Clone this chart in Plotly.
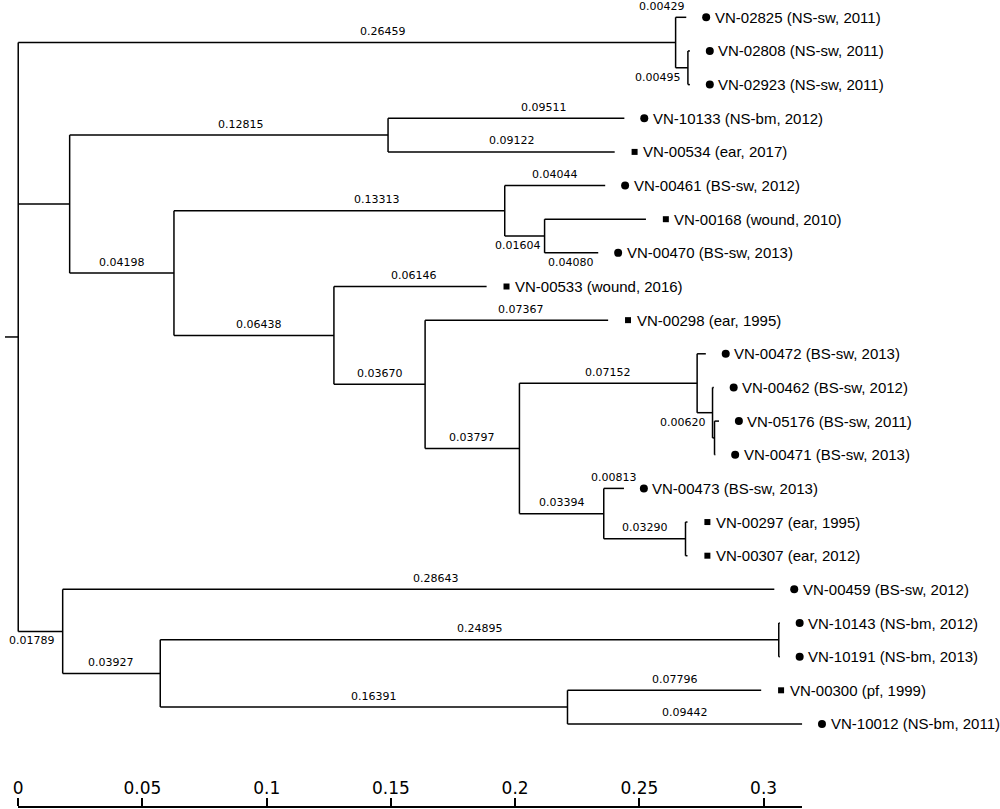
import plotly.graph_objects as go

# ---------------- data ----------------
node_ids = ["R", "A", "VN-02825", "B", "VN-02808", "VN-02923",
            "C", "D", "VN-10133", "VN-00534",
            "E", "F", "VN-00461", "G", "VN-00168", "VN-00470",
            "H", "VN-00533", "I", "VN-00298", "J", "K", "VN-00472", "L",
            "VN-00462", "L2", "VN-05176", "VN-00471",
            "M", "VN-00473", "N", "VN-00297", "VN-00307",
            "O", "VN-00459", "P", "Q", "VN-10143", "VN-10191",
            "S", "VN-00300", "VN-10012"]
parents = [None, "R", "A", "A", "B", "B",
           "R", "C", "D", "D",
           "C", "E", "F", "F", "G", "G",
           "E", "H", "H", "I", "I", "J", "K", "K",
           "L", "L", "L2", "L2",
           "J", "M", "M", "N", "N",
           "R", "O", "O", "P", "Q", "Q",
           "P", "S", "S"]
branch_len = [0.0, 0.26459, 0.00429, 0.00495, 0.0008, 0.0008,
              0.0207, 0.12815, 0.09511, 0.09122,
              0.04198, 0.13313, 0.04044, 0.01604, 0.04080, 0.0216,
              0.06438, 0.06146, 0.03670, 0.07367, 0.03797, 0.07152, 0.0035, 0.00620,
              0.0005, 0.0008, 0.0018, 0.0003,
              0.03394, 0.00813, 0.03290, 0.0008, 0.0008,
              0.01789, 0.28643, 0.03927, 0.24895, 0.0004, 0.0004,
              0.16391, 0.07796, 0.09442]
branch_text = ["", "0.26459", "0.00429", "0.00495", "", "",
               "", "0.12815", "0.09511", "0.09122",
               "0.04198", "0.13313", "0.04044", "0.01604", "", "0.04080",
               "0.06438", "0.06146", "0.03670", "0.07367", "0.03797", "0.07152", "", "0.00620",
               "", "", "", "",
               "0.03394", "0.00813", "0.03290", "", "",
               "0.01789", "0.28643", "0.03927", "0.24895", "", "",
               "0.16391", "0.07796", "0.09442"]

leaf_ids = ["VN-02825", "VN-02808", "VN-02923", "VN-10133", "VN-00534",
            "VN-00461", "VN-00168", "VN-00470", "VN-00533", "VN-00298",
            "VN-00472", "VN-00462", "VN-05176", "VN-00471", "VN-00473",
            "VN-00297", "VN-00307", "VN-00459", "VN-10143", "VN-10191",
            "VN-00300", "VN-10012"]
leaf_source = ["NS-sw", "NS-sw", "NS-sw", "NS-bm", "ear",
               "BS-sw", "wound", "BS-sw", "wound", "ear",
               "BS-sw", "BS-sw", "BS-sw", "BS-sw", "BS-sw",
               "ear", "ear", "BS-sw", "NS-bm", "NS-bm",
               "pf", "NS-bm"]
leaf_year = [2011, 2011, 2011, 2012, 2017,
             2012, 2010, 2013, 2016, 1995,
             2013, 2012, 2011, 2013, 2013,
             1995, 2012, 2012, 2012, 2013,
             1999, 2011]
leaf_group = ["carriage", "carriage", "carriage", "carriage", "clinical",
              "carriage", "clinical", "carriage", "clinical", "clinical",
              "carriage", "carriage", "carriage", "carriage", "carriage",
              "clinical", "clinical", "carriage", "carriage", "carriage",
              "clinical", "carriage"]

scale_ticks = [0, 0.05, 0.1, 0.15, 0.2, 0.25, 0.3]
scale_ticktext = ["0", "0.05", "0.1", "0.15", "0.2", "0.25", "0.3"]

# ---------------- style / layout constants ----------------
W, H = 1000, 809
PX_PER_UNIT = 2497.0
X0_PX = 13.3           # pixel of distance 0
SCALE_END_PX = 801.0
LEAF0_PX, LEAF_STEP_PX = 17.3, 33.65
AXIS_PX = 807.0
MARGIN_B = H - AXIS_PX
STUB_PX = 13.3
MARKER_GAP_PX = 20.0
TEXT_GAP_PX = 26.5
LINE_W = 1.5

# label placement (style): position above/below, anchor mode, extra x shift in px
label_style = {
    "A": ("above", "mid", 36), "VN-02825": ("above", "tipright", 1),
    "B": ("below", "noderight", -5), "L": ("below", "noderight", -5),
    "D": ("above", "mid", 12), "VN-10133": ("above", "mid", 38),
    "VN-00534": ("above", "mid", 11), "F": ("above", "mid", 38),
    "G": ("below", "mid", -7), "VN-00470": ("below", "mid", 0),
    "O": ("below", "mid", -8), "VN-00459": ("above", "mid", 17),
    "Q": ("above", "mid", 10), "S": ("above", "mid", 10),
    "VN-00300": ("above", "mid", 11), "VN-00461": ("above", "mid", 0),
    "H": ("above", "mid", 5), "VN-00533": ("above", "mid", 4),
    "VN-00298": ("above", "mid", 4),
}

# ---------------- tree layout ----------------
children = {n: [] for n in node_ids}
for n, p in zip(node_ids, parents):
    if p is not None:
        children[p].append(n)

xpos = {}
for n, p, bl in zip(node_ids, parents, branch_len):
    xpos[n] = 0.0 if p is None else xpos[p] + bl

ypos = {}
for i, n in enumerate(leaf_ids):
    ypos[n] = float(i)
for n in reversed(node_ids):
    if children[n]:
        ypos[n] = (ypos[children[n][0]] + ypos[children[n][-1]]) / 2.0

xs, ys = [], []
root = node_ids[0]
xs += [-STUB_PX / PX_PER_UNIT, 0.0, None]
ys += [ypos[root], ypos[root], None]
for n, p in zip(node_ids, parents):
    if p is not None:
        xs += [xpos[p], xpos[n], None]
        ys += [ypos[n], ypos[n], None]
    if children[n]:
        xs += [xpos[n], xpos[n], None]
        ys += [ypos[children[n][0]], ypos[children[n][-1]], None]

fig = go.Figure()

# invisible trace binding the scale axis (drawn first, below the tree)
scale_max = (SCALE_END_PX - X0_PX) / PX_PER_UNIT
fig.add_trace(go.Scatter(x=[0, scale_max], y=[0, 0], xaxis="x2", yaxis="y",
                         mode="markers", marker=dict(opacity=0),
                         hoverinfo="skip", showlegend=False))

fig.add_trace(go.Scatter(x=xs, y=ys, mode="lines",
                         line=dict(color="black", width=LINE_W),
                         hoverinfo="skip", showlegend=False))

# leaf markers
for grp, sym, size in [("carriage", "circle", 8), ("clinical", "square", 6)]:
    mx = [xpos[l] + MARKER_GAP_PX / PX_PER_UNIT for l, g in zip(leaf_ids, leaf_group) if g == grp]
    my = [ypos[l] for l, g in zip(leaf_ids, leaf_group) if g == grp]
    fig.add_trace(go.Scatter(x=mx, y=my, mode="markers",
                             marker=dict(symbol=sym, size=size, color="black",
                                         line=dict(width=0)),
                             cliponaxis=False, hoverinfo="skip", showlegend=False))

annotations = []
for l, s, yr in zip(leaf_ids, leaf_source, leaf_year):
    annotations.append(dict(x=xpos[l], y=ypos[l], xref="x", yref="y",
                            text=f"{l} ({s}, {yr})", showarrow=False,
                            xanchor="left", yanchor="middle", xshift=TEXT_GAP_PX,
                            font=dict(family="Liberation Sans, Arial", size=15, color="black")))

for n, p, t in zip(node_ids, parents, branch_text):
    if not t:
        continue
    pos, mode, dx = label_style.get(n, ("above", "mid", 0))
    if mode == "mid":
        ax, anchor = (xpos[p] + xpos[n]) / 2.0, "center"
    else:
        ax, anchor = xpos[n], "right"
    annotations.append(dict(x=ax, y=ypos[n], xref="x", yref="y", text=t,
                            showarrow=False, xanchor=anchor, yanchor="middle",
                            xshift=dx, yshift=(11 if pos == "above" else -9.5),
                            font=dict(family="DejaVu Sans", size=11, color="black")))

fig.update_layout(
    width=W, height=H,
    margin=dict(l=0, r=0, t=0, b=MARGIN_B, pad=0),
    paper_bgcolor="white", plot_bgcolor="rgba(0,0,0,0)",
    annotations=annotations,
    xaxis=dict(range=[-X0_PX / PX_PER_UNIT, (W - X0_PX) / PX_PER_UNIT],
               visible=False, domain=[0, 1]),
    yaxis=dict(range=[(AXIS_PX - LEAF0_PX) / LEAF_STEP_PX, -LEAF0_PX / LEAF_STEP_PX],
               visible=False),
    xaxis2=dict(domain=[X0_PX / W, SCALE_END_PX / W], range=[0, scale_max],
                anchor="free", position=0, side="top",
                showline=True, linecolor="black", linewidth=1.5,
                ticks="outside", ticklen=8, tickwidth=1.5, tickcolor="black",
                tickvals=scale_ticks, ticktext=scale_ticktext,
                tickfont=dict(family="DejaVu Sans", size=17, color="black"),
                showgrid=False, zeroline=False, ticklabelstandoff=-3),
    showlegend=False,
)

fig.write_html("out.html", config={"displayModeBar": False},
               post_script="document.body.style.margin='0';")
